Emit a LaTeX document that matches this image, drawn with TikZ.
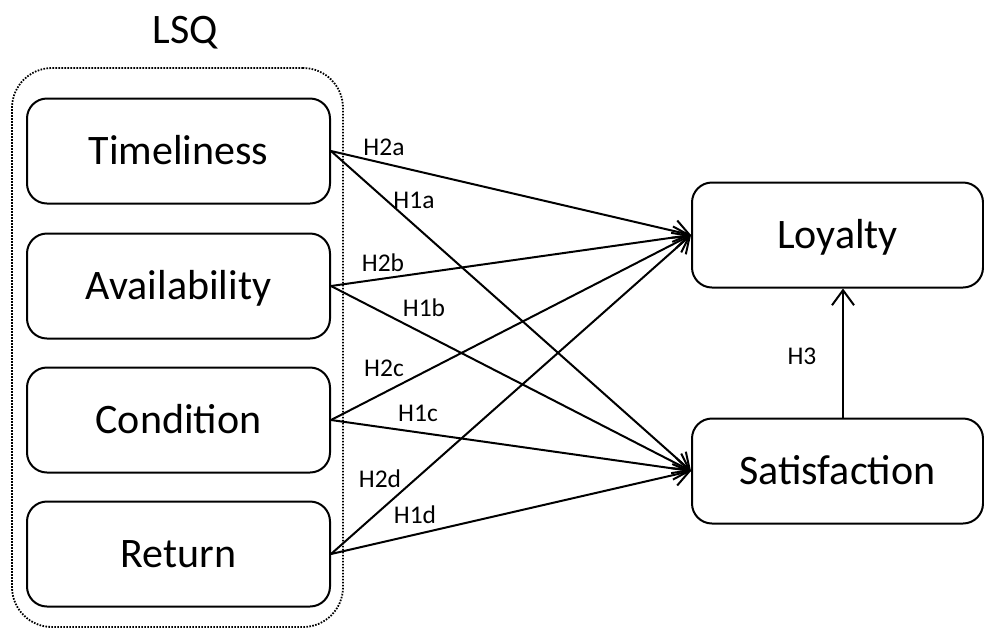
\documentclass[tikz,border=0pt]{standalone}
\usepackage{fontspec}
\setmainfont{Carlito}
\usetikzlibrary{arrows.meta}
\tikzset{
  x=1pt, y=-1pt,
  box/.style={draw, line width=2pt, rounded corners=20pt, minimum height=105pt,
    inner sep=0pt, text height=27pt, text depth=0pt,
    font=\fontsize{42}{50}\selectfont},
  lbox/.style={box, minimum width=303pt},
  rbox/.style={box, minimum width=291pt},
  hyp/.style={font=\fontsize{25.5}{30}\selectfont, inner sep=0pt},
  conn/.style={line width=2pt, -{Straight Barb[length=15pt,width=22pt]}},
  group/.style={draw, line width=1.8pt, dash pattern=on 1.6pt off 1.4pt, rounded corners=40pt,
    minimum width=331pt, minimum height=559pt, inner sep=0pt}
}
\begin{document}
\begin{tikzpicture}
\useasboundingbox (0,0) rectangle (984,630);
\node[group] (grp) at (177.5,347.5) {};
\node[font=\fontsize{42}{50}\selectfont, inner sep=0pt, text height=27pt, text depth=0pt] (lsq) at (185,30) {LSQ};
\node[lbox] (T) at (178.5,151) {Timeliness};
\node[lbox] (A) at (178.5,286) {Availability};
\node[lbox] (C) at (178.5,420) {Condition};
\node[lbox] (R) at (178.5,554) {Return};
\node[rbox] (L) at (837.5,235) {Loyalty};
\node[rbox] (S) at (837.5,471) {Satisfaction};
\draw[conn] (T.east) -- (L.west);
\draw[conn] (T.east) -- (S.west);
\draw[conn] (A.east) -- (L.west);
\draw[conn] (A.east) -- (S.west);
\draw[conn] (C.east) -- (L.west);
\draw[conn] (C.east) -- (S.west);
\draw[conn] (R.east) -- (L.west);
\draw[conn] (R.east) -- (S.west);
\draw[conn] (S.north -| 843,0) -- (L.south -| 843,0);
\node[hyp] (h2a) at (384,147) {H2a};
\node[hyp] (h1a) at (414,200) {H1a};
\node[hyp] (h2b) at (383,263) {H2b};
\node[hyp] (h1b) at (424,308) {H1b};
\node[hyp] (h2c) at (384,368) {H2c};
\node[hyp] (h1c) at (418,413) {H1c};
\node[hyp] (h2d) at (380,479) {H2d};
\node[hyp] (h1d) at (415,515) {H1d};
\node[hyp] (h3) at (802,356) {H3};
\end{tikzpicture}
\end{document}
